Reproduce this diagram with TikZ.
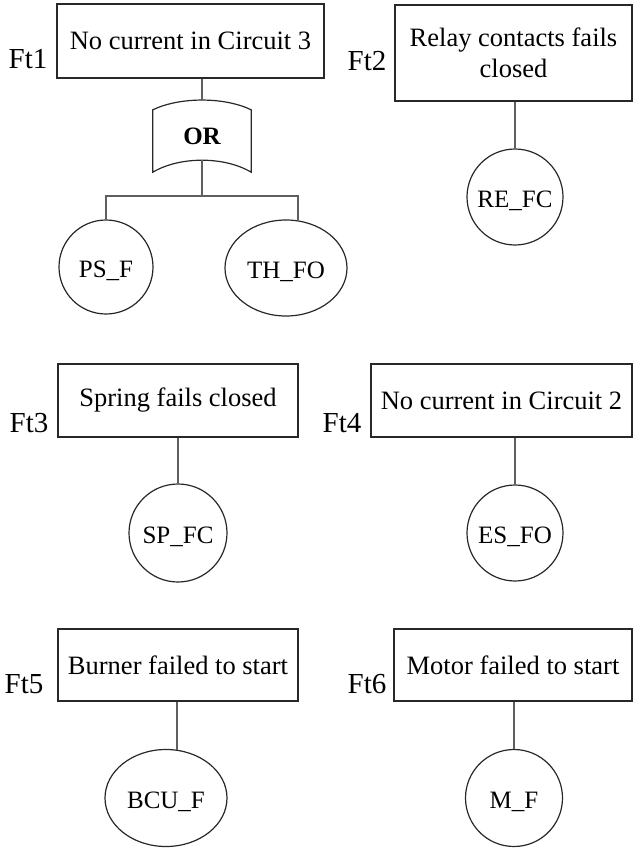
\documentclass[tikz,border=0pt]{standalone}
\usepackage{fontspec}
\setmainfont{Liberation Serif}
\usetikzlibrary{shapes.geometric,calc}
\definecolor{edge}{RGB}{40,40,40}
\definecolor{wire}{RGB}{95,95,95}
\newcommand\dn[1]{\raisebox{-4pt}[\height][\depth]{#1}}
\begin{document}
\begin{tikzpicture}[x=1pt,y=-1pt,
  evbox/.style={draw=edge,line width=1.2pt,rectangle,inner sep=0pt,align=center,
    font=\rmfamily\fontsize{26.5}{30}\selectfont},
  ftlab/.style={anchor=base,inner sep=0pt,font=\rmfamily\fontsize{29}{30}\selectfont},
  basic/.style={draw=edge,line width=1.2pt,circle,inner sep=0pt,
    font=\rmfamily\fontsize{25}{28}\selectfont},
  basicel/.style={draw=edge,line width=1.2pt,ellipse,inner sep=0pt,
    font=\rmfamily\fontsize{25}{28}\selectfont},
  wirel/.style={draw=wire,line width=1.5pt},
  gatel/.style={draw=edge,line width=1.2pt}]
\useasboundingbox (0,0) rectangle (633,852);

% Ft1
\node[evbox,minimum width=267pt,minimum height=74pt] (b1) at (190.5,41) {No current in Circuit 3};
\node[ftlab] (l1) at (28,68) {Ft1};
\node[inner sep=0pt,minimum width=98pt,minimum height=72pt,font=\rmfamily\fontsize{25}{28}\selectfont\bfseries] (gate) at (202,136) {OR};
\draw[gatel] ($(gate.north west)+(0,10)$) .. controls ($(gate.north west)+(27,-3)$) and ($(gate.north east)+(-27,-3)$) .. ($(gate.north east)+(0,10)$)
  -- (gate.south east) .. controls ($(gate.south east)+(-27,-16)$) and ($(gate.south west)+(27,-16)$) .. (gate.south west) -- cycle;
\coordinate (gout) at ($(gate.south)+(0,-12)$);
\coordinate (fork) at (202,196);
\node[basic,minimum size=94pt] (ps) at (106,267) {\dn{PS\_F}};
\node[basicel,minimum width=122pt,minimum height=96pt] (th) at (286,268) {\dn{TH\_FO}};
\coordinate (thin) at ($(th.north)+(12,1)$);
\draw[wirel] (gate.north |- b1.south) -- (gate.north);
\draw[wirel] (gout) -- (fork);
\draw[wirel] (ps.north) |- (fork) -| (thin);

% Ft2
\node[evbox,minimum width=237pt,minimum height=96pt] (b2) at (513.5,53) {Relay contacts fails\\[1pt]closed};
\node[ftlab] (l2) at (367,70) {Ft2};
\node[basic,minimum size=96pt] (re) at (515,197) {\dn{RE\_FC}};
\draw[wirel] (re.north |- b2.south) -- (re.north);

% Ft3
\node[evbox,minimum width=240pt,minimum height=73pt] (b3) at (178,400.5) {Spring fails closed};
\node[ftlab] (l3) at (29,432) {Ft3};
\node[basic,minimum size=98pt] (sp) at (178,533) {\dn{SP\_FC}};
\draw[wirel] (sp.north |- b3.south) -- (sp.north);

% Ft4
\node[evbox,minimum width=261pt,minimum height=73pt] (b4) at (501.5,400.5) {No current in Circuit 2};
\node[ftlab] (l4) at (342,432) {Ft4};
\node[basic,minimum size=96pt] (es) at (515,533) {\dn{ES\_FO}};
\draw[wirel] (es.north |- b4.south) -- (es.north);

% Ft5
\node[evbox,minimum width=240pt,minimum height=72pt] (b5) at (178,665) {Burner failed to start};
\node[ftlab] (l5) at (24,693) {Ft5};
\node[basicel,minimum width=122pt,minimum height=97pt] (bcu) at (166,798) {\dn{BCU\_F}};
\coordinate (bcuin) at ($(bcu.north)+(11,1)$);
\draw[wirel] (bcuin |- b5.south) -- (bcuin);

% Ft6
\node[evbox,minimum width=238pt,minimum height=72pt] (b6) at (513,665) {Motor failed to start};
\node[ftlab] (l6) at (367,693) {Ft6};
\node[basic,minimum size=97pt] (mf) at (514,798) {\dn{M\_F}};
\draw[wirel] (mf.north |- b6.south) -- (mf.north);
\end{tikzpicture}
\end{document}
